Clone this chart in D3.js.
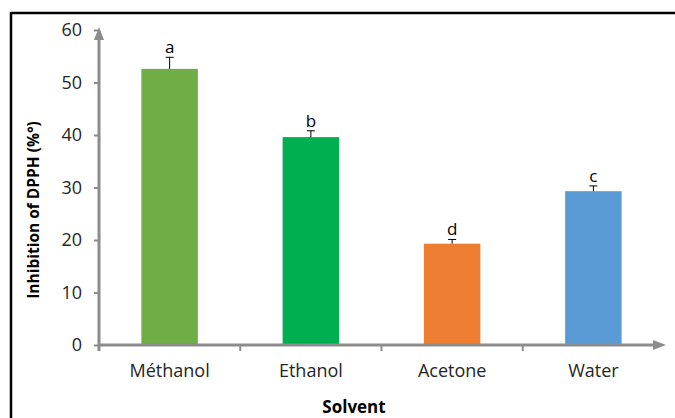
<!DOCTYPE html>
<html>
<head>
<meta charset="utf-8">
<script src="https://cdn.jsdelivr.net/npm/d3@7"></script>
<style>
  html, body { margin: 0; padding: 0; background: #fff; }
  svg { display: block; }
  text { font-family: "Open Sans", "Liberation Sans", sans-serif; }
</style>
</head>
<body>
<svg id="chart" width="675" height="418"></svg>
<script>
// Solvent extraction: DPPH radical inhibition (%)
const solvents = ["Méthanol", "Ethanol", "Acetone", "Water"];
const inhibition = [52.6, 39.6, 19.3, 29.3];
const errors = [2.2, 1.2, 0.8, 1.0];
const groups = ["a", "b", "d", "c"];
const barColors = ["#70AD47", "#00B050", "#ED7D31", "#5B9BD5"];
const yTicks = [0, 10, 20, 30, 40, 50, 60];

const svg = d3.select("#chart");
const axisColor = "#8c8c8c";
const labelColor = "#262626";

// frame lines
svg.append("line").attr("x1", 11).attr("x2", 675).attr("y1", 13).attr("y2", 13)
  .attr("stroke", "#000").attr("stroke-width", 2.5);
svg.append("line").attr("x1", 11).attr("x2", 11).attr("y1", 12).attr("y2", 418)
  .attr("stroke", "#000").attr("stroke-width", 2.5);

const x = d3.scaleBand().domain(solvents).range([99, 664]).paddingInner(0.6).paddingOuter(0.3);
const y = d3.scaleLinear().domain([0, 60]).range([345, 30]);

// bars
svg.selectAll("rect.bar").data(solvents).join("rect")
  .attr("class", "bar")
  .attr("x", d => x(d))
  .attr("width", x.bandwidth())
  .attr("y", (d, i) => y(inhibition[i]))
  .attr("height", (d, i) => y(0) - y(inhibition[i]))
  .attr("fill", (d, i) => barColors[i]);

// error bars (upper half) with significance letters
const capW = 8;
solvents.forEach((d, i) => {
  const cx = x(d) + x.bandwidth() / 2;
  const top = y(inhibition[i] + errors[i]);
  svg.append("line").attr("x1", cx).attr("x2", cx)
    .attr("y1", y(inhibition[i])).attr("y2", top)
    .attr("stroke", "#000").attr("stroke-width", 1);
  svg.append("line").attr("x1", cx - capW / 2).attr("x2", cx + capW / 2)
    .attr("y1", top).attr("y2", top)
    .attr("stroke", "#000").attr("stroke-width", 1);
  svg.append("text").attr("x", cx).attr("y", top - 4)
    .attr("text-anchor", "middle").attr("font-size", 17).attr("fill", "#000")
    .text(groups[i]);
});

// y axis
const yAxis = d3.axisLeft(y).tickValues(yTicks).tickSize(5).tickPadding(12);
const gy = svg.append("g").attr("transform", "translate(99,0)").call(yAxis);
gy.select(".domain").remove();
gy.selectAll(".tick line").attr("stroke", axisColor).attr("stroke-width", 2);
gy.selectAll(".tick text").attr("font-size", 18).attr("fill", labelColor)
  .attr("font-family", "'Open Sans', sans-serif");
svg.append("line").attr("x1", 99).attr("x2", 99).attr("y1", 351).attr("y2", 38)
  .attr("stroke", axisColor).attr("stroke-width", 3);
svg.append("path").attr("d", "M99,27 L94,40 L104,40 Z").attr("fill", axisColor);

// x axis
const xAxis = d3.axisBottom(x).tickSize(0).tickPadding(19);
const gx = svg.append("g").attr("transform", "translate(0,345)").call(xAxis);
gx.select(".domain").remove();
gx.selectAll(".tick text").attr("font-size", 18).attr("fill", labelColor)
  .attr("font-family", "'Open Sans', sans-serif");
svg.append("line").attr("x1", 99).attr("x2", 656).attr("y1", 345).attr("y2", 345)
  .attr("stroke", axisColor).attr("stroke-width", 3);
svg.append("path").attr("d", "M666,345 L653,340 L653,350 Z").attr("fill", axisColor);
// category boundary ticks
const step = x.step();
[1, 2, 3].forEach(k => {
  const bx = x(solvents[0]) - x.paddingOuter() * step + k * step;
  svg.append("line").attr("x1", bx).attr("x2", bx).attr("y1", 345).attr("y2", 351)
    .attr("stroke", axisColor).attr("stroke-width", 2);
});

// axis titles
svg.append("text").attr("x", 354).attr("y", 413).attr("text-anchor", "middle")
  .attr("font-size", 17).attr("font-weight", "bold").attr("fill", "#000").text("Solvent");
svg.append("text").attr("transform", "translate(39,210) rotate(-90)")
  .attr("text-anchor", "middle").attr("font-size", 15.5).attr("font-weight", "bold")
  .attr("fill", "#000").text("Inhibition of DPPH (%°)");
</script>
</body>
</html>
